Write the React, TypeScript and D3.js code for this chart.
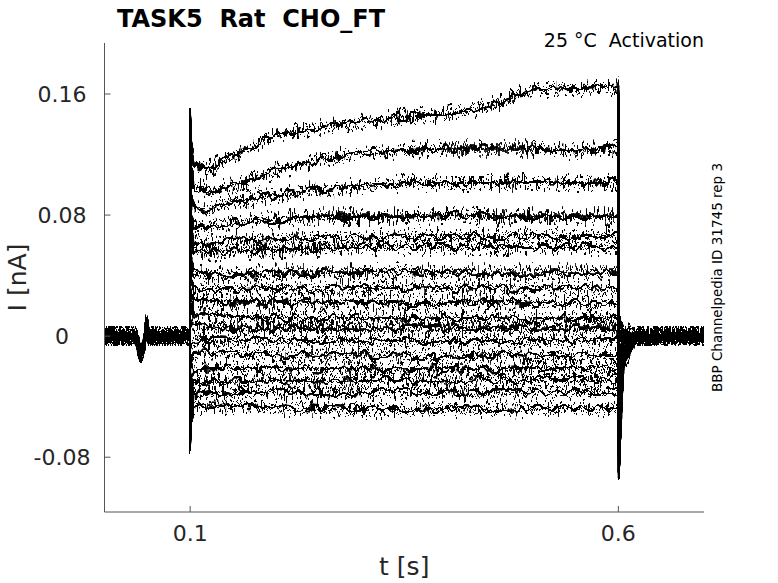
import * as d3 from "d3";

// axis ticks
const xTicks = [0.1, 0.6];
const xTickLabels = ["0.1", "0.6"];
const yTicks = [-0.08, 0, 0.08, 0.16];
const yTickLabels = ["-0.08", "0", "0.08", "0.16"];

// holding period before the step (shared by every sweep), t [s] / I [nA]
const preT = [0, 0.036, 0.0385, 0.042, 0.046, 0.049, 0.052, 0.0998];
const preI = [0, 0, -0.004, -0.012, -0.006, 0.008, 0, 0];

// voltage step, one sweep per row, top to bottom
const pulseT = [0.1, 0.1006, 0.104, 0.12, 0.15, 0.2, 0.25, 0.3, 0.35, 0.4, 0.45, 0.5, 0.55, 0.6];
const trace01 = [0.148, 0.13, 0.114, 0.11, 0.119, 0.133, 0.137, 0.141, 0.145, 0.147, 0.152, 0.163, 0.164, 0.165];
const trace02 = [0.128, 0.112, 0.099, 0.096, 0.099, 0.109, 0.117, 0.121, 0.123, 0.124, 0.124, 0.124, 0.122, 0.125];
const trace03 = [0.112, 0.097, 0.086, 0.083, 0.089, 0.093, 0.097, 0.099, 0.101, 0.101, 0.101, 0.102, 0.101, 0.102];
const trace04 = [0.098, 0.084, 0.074, 0.072, 0.075, 0.077, 0.079, 0.079, 0.079, 0.08, 0.079, 0.079, 0.079, 0.079];
const trace05 = [0.086, 0.072, 0.063, 0.061, 0.063, 0.064, 0.065, 0.065, 0.066, 0.066, 0.066, 0.066, 0.066, 0.066];
const trace06 = [0.076, 0.064, 0.057, 0.055, 0.056, 0.057, 0.058, 0.059, 0.059, 0.059, 0.059, 0.059, 0.059, 0.059];
const trace07 = [0.06, 0.05, 0.042, 0.04, 0.041, 0.042, 0.042, 0.042, 0.043, 0.042, 0.042, 0.042, 0.042, 0.042];
const trace08 = [0.046, 0.038, 0.032, 0.031, 0.031, 0.032, 0.031, 0.032, 0.032, 0.031, 0.032, 0.031, 0.032, 0.031];
const trace09 = [0.034, 0.028, 0.024, 0.0235, 0.023, 0.023, 0.022, 0.023, 0.022, 0.022, 0.023, 0.022, 0.022, 0.022];
const trace10 = [0.022, 0.018, 0.015, 0.015, 0.013, 0.012, 0.012, 0.012, 0.011, 0.012, 0.012, 0.011, 0.012, 0.012];
const trace11 = [0.01, 0.008, 0.006, 0.0058, 0.005, 0.005, 0.005, 0.005, 0.005, 0.005, 0.005, 0.005, 0.005, 0.005];
const trace12 = [-0.008, -0.005, -0.003, -0.0028, -0.003, -0.003, -0.003, -0.003, -0.003, -0.003, -0.003, -0.003, -0.003, -0.003];
const trace13 = [-0.024, -0.016, -0.011, -0.0108, -0.012, -0.012, -0.013, -0.012, -0.013, -0.013, -0.012, -0.013, -0.013, -0.013];
const trace14 = [-0.038, -0.027, -0.022, -0.0214, -0.021, -0.021, -0.022, -0.021, -0.022, -0.021, -0.022, -0.021, -0.021, -0.021];
const trace15 = [-0.052, -0.038, -0.031, -0.0306, -0.03, -0.029, -0.03, -0.029, -0.029, -0.03, -0.029, -0.029, -0.029, -0.029];
const trace16 = [-0.063, -0.046, -0.039, -0.0379, -0.037, -0.037, -0.038, -0.037, -0.037, -0.037, -0.038, -0.037, -0.037, -0.037];
const trace17 = [-0.074, -0.057, -0.048, -0.0458, -0.046, -0.047, -0.048, -0.049, -0.049, -0.048, -0.049, -0.048, -0.048, -0.048];
const pulseLevels = [
  trace01, trace02, trace03, trace04, trace05, trace06, trace07, trace08, trace09,
  trace10, trace11, trace12, trace13, trace14, trace15, trace16, trace17,
];

// after the step: tail spike, decay, back to holding
const postT = [0.6004, 0.606, 0.62, 0.7];
const offPeak = [-0.09, -0.075, -0.06, -0.05, -0.042, -0.036, -0.03, -0.024, -0.019, -0.014, -0.01, -0.006, -0.002, 0.002, 0.005, 0.008, 0.011];
const offTail = [-0.02, -0.017, -0.014, -0.012, -0.01, -0.008, -0.007, -0.005, -0.004, -0.003, -0.002, -0.001, 0, 0.001, 0.002, 0.003, 0.004];

const W = 778;
const H = 583;
const box = { left: 104.5, right: 704, top: 43, bottom: 512 };
const font = "'DejaVu Sans', sans-serif";
const noiseMatrix = "0 0 0 0 0.5  0 2.2 0 0 -0.6  0 0 0 0 0  0 0 0 0 1";

export default function App() {
  const x = d3.scaleLinear().domain([0, 0.7]).range([box.left, box.right]);
  const y = d3.scaleLinear().domain([-0.1162, 0.1937]).range([box.bottom, box.top]);

  const line = d3
    .line<[number, number]>()
    .x((d) => x(d[0]))
    .y((d) => y(d[1]));

  const sweeps = pulseLevels.map((levels, i) => {
    const pts: [number, number][] = [];
    preT.forEach((t, k) => pts.push([t, preI[k]]));
    pulseT.forEach((t, k) => pts.push([t, levels[k]]));
    const post = [offPeak[i], offTail[i], 0, 0];
    postT.forEach((t, k) => pts.push([t, post[k]]));
    return pts;
  });

  return (
    <svg
      width={W}
      height={H}
      style={{ position: "absolute", left: 0, top: 0, background: "#fff" }}
      fontFamily={font}
    >
      <defs>
        {/* recording noise drawn as a jitter filter, own seeds per sweep:
            a slow wobble keeps the trace continuous, two fast ones add the spikes */}
        {sweeps.map((_, i) => (
          <filter
            key={i}
            id={`jit${i}`}
            x="-2%"
            y="-10%"
            width="104%"
            height="120%"
            colorInterpolationFilters="sRGB"
          >
            <feTurbulence type="fractalNoise" baseFrequency="0.1 0.06" numOctaves={2} seed={i * 5 + 41} result="n0" />
            <feColorMatrix in="n0" type="matrix" values={noiseMatrix} result="m0" />
            <feDisplacementMap in="SourceGraphic" in2="m0" scale={8} xChannelSelector="R" yChannelSelector="G" result="d0" />
            <feTurbulence type="fractalNoise" baseFrequency="0.36 0.06" numOctaves={2} seed={i * 7 + 3} result="n1" />
            <feColorMatrix in="n1" type="matrix" values={noiseMatrix} result="m1" />
            <feDisplacementMap in="SourceGraphic" in2="m1" scale={18} xChannelSelector="R" yChannelSelector="G" result="d1" />
            <feTurbulence type="fractalNoise" baseFrequency="0.5 0.06" numOctaves={2} seed={i * 11 + 101} result="n2" />
            <feColorMatrix in="n2" type="matrix" values={noiseMatrix} result="m2" />
            <feDisplacementMap in="SourceGraphic" in2="m2" scale={13} xChannelSelector="R" yChannelSelector="G" result="d2" />
            <feMerge result="mg">
              <feMergeNode in="d0" />
              <feMergeNode in="d1" />
              <feMergeNode in="d2" />
            </feMerge>
            <feComponentTransfer in="mg">
              <feFuncA type="linear" slope={3.2} intercept={0} />
            </feComponentTransfer>
          </filter>
        ))}
      </defs>

      {/* sweeps */}
      {sweeps.map((pts, i) => (
        <path
          key={i}
          d={line(pts) || ""}
          fill="none"
          stroke="#000"
          strokeWidth={1.6}
          strokeLinejoin="round"
          filter={`url(#jit${i})`}
        />
      ))}

      {/* axes */}
      <g stroke="#555" strokeWidth={1} fill="none">
        <line x1={box.left} x2={box.left} y1={box.top} y2={box.bottom} />
        <line x1={box.left} x2={box.right} y1={box.bottom} y2={box.bottom} />
        {yTicks.map((v) => (
          <line key={v} x1={box.left} x2={box.left + 6} y1={y(v)} y2={y(v)} />
        ))}
        {xTicks.map((v) => (
          <line key={v} x1={x(v)} x2={x(v)} y1={box.bottom} y2={box.bottom - 6} />
        ))}
      </g>

      <g fill="#262626" fontSize={22}>
        {yTicks.map((v, i) => (
          <text key={v} x={62} y={y(v)} dy="0.36em" textAnchor="middle">
            {yTickLabels[i]}
          </text>
        ))}
        {xTicks.map((v, i) => (
          <text key={v} x={x(v)} y={541} textAnchor="middle">
            {xTickLabels[i]}
          </text>
        ))}
      </g>

      <text x={(box.left + box.right) / 2} y={575} fontSize={25} fill="#262626" textAnchor="middle">
        t [s]
      </text>
      <text
        transform={`translate(26,${(box.top + box.bottom) / 2}) rotate(-90)`}
        fontSize={25}
        fill="#262626"
        textAnchor="middle"
      >
        I [nA]
      </text>

      <text x={117} y={27} fontSize={24} fontWeight="bold" fill="#000" xmlSpace="preserve">
        TASK5  Rat  CHO_FT
      </text>
      <text x={704} y={47} fontSize={19} fill="#000" textAnchor="end" xmlSpace="preserve">
        25 °C  Activation
      </text>
      <text
        transform={`translate(722,${(box.top + box.bottom) / 2}) rotate(-90)`}
        fontSize={13.5}
        fill="#000"
        textAnchor="middle"
      >
        BBP Channelpedia ID 31745 rep 3
      </text>
    </svg>
  );
}
